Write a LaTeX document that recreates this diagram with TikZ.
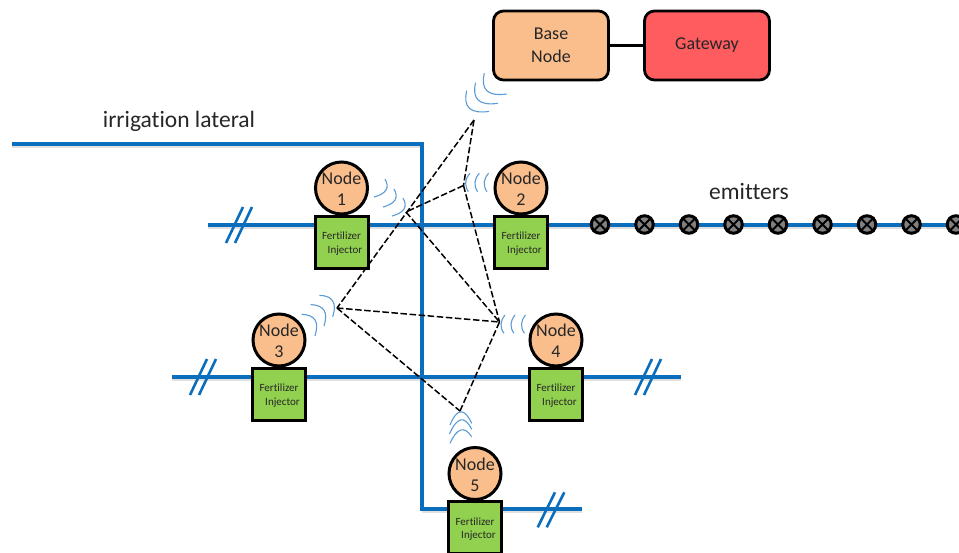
\documentclass[tikz,border=0pt]{standalone}
\usepackage{fontspec}
\usetikzlibrary{calc}
\setmainfont[Ligatures=NoCommon]{Carlito}
\definecolor{pipe}{HTML}{0A6EBD}
\definecolor{wavec}{HTML}{5B9BD5}
\definecolor{orangeb}{HTML}{F9BE8C}
\definecolor{redb}{HTML}{FF5C60}
\definecolor{greenb}{HTML}{92D050}
\definecolor{txt}{HTML}{262626}
\tikzset{
  pipeline/.style={draw=pipe,line width=4.4pt,line join=miter},
  pipeshadow/.style={draw=black!35,line width=3pt,opacity=.35},
  breakmark/.style={draw=pipe,line width=2.6pt},
  wavearc/.style={draw=wavec,line width=1.1pt},
  radio/.style={draw=black,line width=1.5pt,dash pattern=on 6.5pt off 2.6pt},
  nodecircle/.style={circle,draw=black,line width=3pt,fill=orangeb,minimum size=52pt,inner sep=0pt,text=txt,font=\fontsize{18}{21}\selectfont,align=center},
  injector/.style={rectangle,draw=black,line width=3pt,fill=greenb,minimum width=53pt,minimum height=52pt,inner sep=0pt,text=txt,font=\fontsize{11}{14}\selectfont,align=center},
  topbox/.style={rectangle,rounded corners=10pt,draw=black,line width=2.8pt,minimum height=69pt,inner sep=0pt,text=txt,font=\fontsize{18}{23}\selectfont,align=center},
  emitter/.style={circle,draw=black,line width=3pt,fill=black!50,minimum size=17.5pt,inner sep=0pt},
  label/.style={text=txt,inner sep=0pt}
}
\newcommand{\injtext}{Fertilizer\\[-0.5pt]\hspace*{7pt}Injector}
\newcommand{\nodetext}[1]{Node\\#1}
\newcommand{\warc}[3]{\draw (#1) .. controls ($(#1)!.667!(#2)$) and ($(#3)!.667!(#2)$) .. (#3);}
\begin{document}
\begin{tikzpicture}[x=1pt,y=-1pt]
\useasboundingbox (0,0) rectangle (959,552);
\clip (0,0) rectangle (959,552);
% free ends of the pipes
\coordinate (latstart) at (12,144);
\coordinate (latcorner) at (422,144);
\coordinate (latbottom) at (422,509);
\coordinate (r1l) at (208,225);
\coordinate (r1r) at (965,225);
\coordinate (r2l) at (172,377);
\coordinate (r2r) at (681,377);
\coordinate (r3r) at (582,509);
% shadows
\draw[pipeshadow] ([yshift=-2.5pt]latstart) -- ([yshift=-2.5pt]latcorner);
\draw[pipeshadow] ([yshift=-2.5pt]r1l) -- ([yshift=-2.5pt]r1r);
\draw[pipeshadow] ([yshift=-2.5pt]r2l) -- ([yshift=-2.5pt]r2r);
\draw[pipeshadow] ([yshift=-2.5pt]latbottom) -- ([yshift=-2.5pt]r3r);
% pipes
\draw[pipeline] (latstart) -- (latcorner) -- (latbottom) -- (r3r);
\draw[pipeline] (r1l) -- (r1r);
\draw[pipeline] (r2l) -- (r2r);
% break marks
\draw[breakmark] (226,243) -- (243,207) (235,243) -- (252,207);
\draw[breakmark] (190,395) -- (207,359) (199,395) -- (216,359);
\draw[breakmark] (635,395) -- (652,359) (644,395) -- (661,359);
\draw[breakmark] (537.7,527.3) -- (555,492.3) (546.7,527.3) -- (564.3,492.3);
% emitters
\foreach \n/\x in {1/600,2/644.5,3/689,4/733.5,5/778,6/822.5,7/867,8/911.5,9/956}{
  \node[emitter] (e\n) at (\x,224.5) {};
  \draw[black,line width=2pt] (e\n.north east) -- (e\n.south west) (e\n.north west) -- (e\n.south east);
}
% top boxes
\node[topbox,fill=orangeb,minimum width=115pt] (base) at (551,45.5) {\raisebox{-1pt}{Base}\\\raisebox{-1pt}{Node}};
\node[topbox,fill=redb,minimum width=125pt] (gateway) at (707,45.5) {\raisebox{-1pt}{Gateway}};
\draw[black,line width=2.8pt] (base) -- (gateway);
% field nodes
\foreach \n/\x/\y in {1/341.5/188,2/521/188,3/279/340,4/556/340,5/475/473.5}{
  \node[injector] (inj\n) at (\x,\y+54) {};
  \node[text=txt,font=\fontsize{11}{14}\selectfont,align=center,inner sep=0pt] (injt\n) at ([yshift=-1.5pt]inj\n.center) {\injtext};
  \node[nodecircle] (node\n) at (\x,\y) {};
  \node[text=txt,font=\fontsize{18}{21}\selectfont,align=center,inner sep=0pt] (nodet\n) at ([yshift=-1pt]node\n.center) {\nodetext{\n}};
}
% radio waves
\begin{scope}[wavearc]
\foreach \dx/\dy in {0/0,9/10,18/19}
  {\begin{scope}[shift={(\dx,\dy)}]\warc{374,197}{392.5,192}{385,179}\end{scope}}
\foreach \dx/\dy in {0/0,-8.7/9.3,-17.6/17.4}
  {\begin{scope}[shift={(\dx,\dy)}]\warc{484.3,73.3}{478.5,98}{506.7,94}\end{scope}}
\foreach \dx in {0,9.3,18.6}
  {\begin{scope}[shift={(\dx,0)}]\warc{470,173.3}{462.2,182}{468.3,191.7}\end{scope}}
\foreach \dx/\dy in {0/0,9/-9.7,17.7/-19}
  {\begin{scope}[shift={(\dx,\dy)}]\warc{301.7,314.3}{321.7,315}{315,335.7}\end{scope}}
\foreach \dx in {0,10,20.5}
  {\begin{scope}[shift={(\dx,0)}]\warc{505,315}{497.5,324.4}{504,333.3}\end{scope}}
\warc{450,425}{460.6,399.5}{471.7,423.3}
\warc{449.5,434}{460.9,408}{471.7,429.3}
\warc{450,443.3}{460.6,420}{471.7,436.7}
\end{scope}
% radio link points
\coordinate (pa) at (474,120);
\coordinate (pb) at (463.5,185.5);
\coordinate (pc) at (406,212);
\coordinate (pd) at (337,308);
\coordinate (pe) at (499.5,322);
\coordinate (pf) at (460,411);
\draw[radio] (pa) -- (pd);
\draw[radio] (pa) -- (pb);
\draw[radio] (pb) -- (pc);
\draw[radio] (pb) -- (pe);
\draw[radio] (pc) -- (pe);
\draw[radio] (pd) -- (pe);
\draw[radio] (pd) -- (pf);
\draw[radio] (pe) -- (pf);
% labels
\node[label,font=\fontsize{23.5}{26}\selectfont] (irr) at (179,121) {irrigation lateral};
\node[label,font=\fontsize{23.5}{26}\selectfont] (emi) at (749,191) {emitters};
\end{tikzpicture}
\end{document}
